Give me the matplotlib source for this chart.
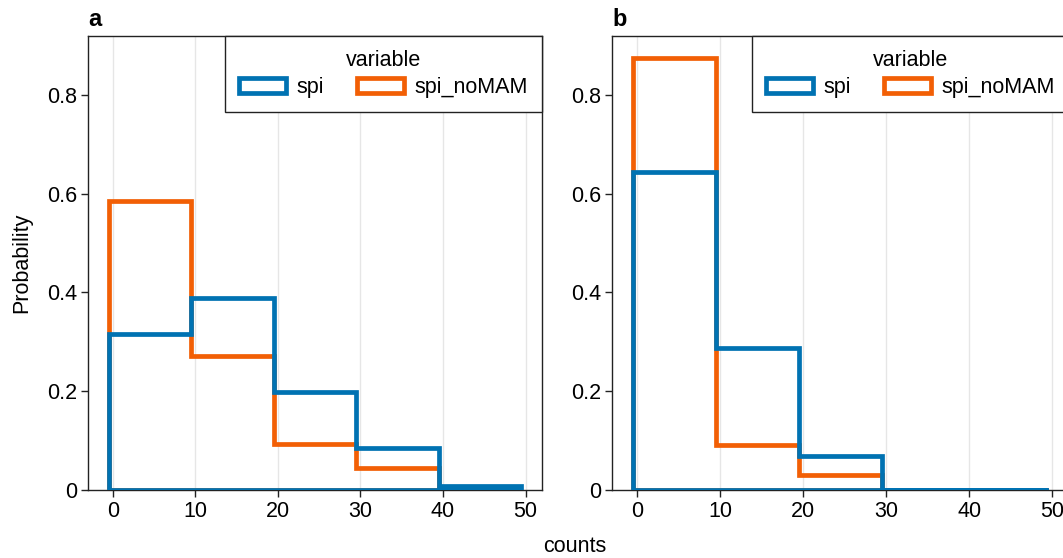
import numpy as np
import matplotlib
matplotlib.use("Agg")
import matplotlib.pyplot as plt
from matplotlib.patches import Patch

# bin edges (counts) and probabilities per panel
edges = np.arange(-0.5, 50, 10)
series_names = ["spi", "spi_noMAM"]
colors = ["#0072B2", "#F25F05"]

a_spi = [0.315, 0.388, 0.198, 0.085, 0.008]
a_spi_nomam = [0.585, 0.272, 0.094, 0.045, 0.0]
b_spi = [0.643, 0.287, 0.069, 0.0, 0.0]
b_spi_nomam = [0.875, 0.092, 0.030, 0.0, 0.0]

panels = ["a", "b"]
panel_data = {"a": [a_spi, a_spi_nomam], "b": [b_spi, b_spi_nomam]}

xticks = [0, 10, 20, 30, 40, 50]
yticks = [0, 0.2, 0.4, 0.6, 0.8]
yticklabels = ["0", "0.2", "0.4", "0.6", "0.8"]

plt.rcParams["font.family"] = ["Liberation Sans", "DejaVu Sans"]
plt.rcParams["font.size"] = 15.5

fig = plt.figure(figsize=(10.63, 5.58), dpi=100)
positions = [[0.0828, 0.1219, 0.4271, 0.8136],
             [0.5757, 0.1219, 0.4300, 0.8136]]

def step_outline(ax, vals, color):
    # closed histogram outline: up from baseline, steps, back down and along 0
    xs = [edges[0]]
    ys = [0.0]
    for i, v in enumerate(vals):
        xs += [edges[i], edges[i + 1]]
        ys += [v, v]
    xs += [edges[-1], edges[0]]
    ys += [0.0, 0.0]
    ax.plot(xs, ys, color=color, lw=3.4, solid_joinstyle="miter",
            solid_capstyle="butt", zorder=3)

for name, pos in zip(panels, positions):
    ax = fig.add_axes(pos)
    spi, nomam = panel_data[name]
    # orange under blue
    step_outline(ax, nomam, colors[1])
    step_outline(ax, spi, colors[0])

    ax.set_xlim(-3, 52)
    ax.set_ylim(0, 0.919)
    ax.set_xticks(xticks)
    ax.set_yticks(yticks)
    ax.set_yticklabels(yticklabels)
    ax.grid(axis="x", color="#e6e6e6", lw=1.0, zorder=0)
    ax.set_axisbelow(True)
    ax.tick_params(direction="out", length=5, width=1, colors="#222222",
                   labelcolor="black", labelsize=15.5, pad=3)
    ax.tick_params(top=False, right=False)
    for sp in ax.spines.values():
        sp.set_color("#222222")
        sp.set_linewidth(1.0)
    ax.set_title(name, loc="left", fontweight="bold", fontsize=17, pad=7)

    handles = [Patch(facecolor="white", edgecolor=c, linewidth=3.4, label=n)
               for c, n in zip(colors, series_names)]
    leg = ax.legend(handles=handles, title="variable", ncol=2,
                    loc="upper right", bbox_to_anchor=(1.0, 1.0),
                    borderaxespad=0, fancybox=False, framealpha=1,
                    edgecolor="#222222", fontsize=15.5, title_fontsize=15.5,
                    handlelength=2.2, handleheight=0.7, handletextpad=0.5,
                    columnspacing=1.5, borderpad=0.65, labelspacing=0.3)
    leg.get_frame().set_linewidth(1.0)

fig.text(22 / 1063, 1 - 263 / 558, "Probability", rotation=90,
         ha="center", va="center", fontsize=15.5)
fig.text(575 / 1063, 1 - 547 / 558, "counts", ha="center", va="center",
         fontsize=15.5)

fig.savefig("out.png", dpi=100)
